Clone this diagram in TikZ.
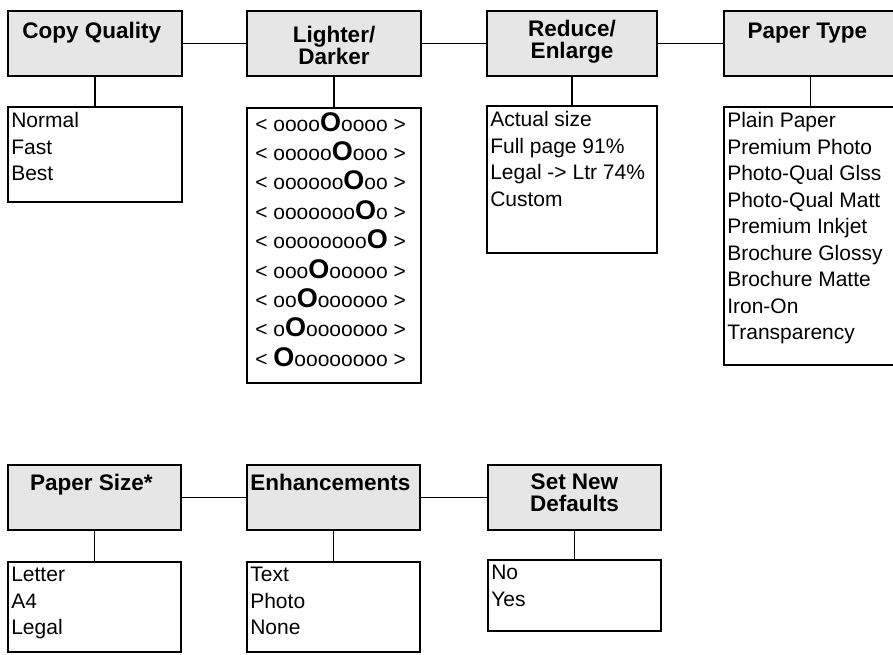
\documentclass[tikz,border=0pt]{standalone}
\usepackage{fontspec}
\setmainfont{Liberation Sans}
\usepackage{xcolor}
\usepackage{tikz}
\usetikzlibrary{positioning}
\definecolor{headgray}{RGB}{230,230,230}
\newcommand{\lvO}{{\fontsize{27}{29.4}\selectfont\bfseries O}}

\begin{document}
\begin{tikzpicture}[x = 1pt, y = -1pt,
  head/.style = {draw, fill = headgray, line width = 1.8pt, minimum height = 65pt},
  list/.style = {draw, line width = 1.8pt},
  headtext/.style = {inner sep = 0, align = center, font = \fontsize{22.5}{22}\selectfont\bfseries},
  listtext/.style = {inner sep = 0, align = left, font = \fontsize{21}{26.5}\selectfont},
  link/.style = {line width = 1.5pt}]
  \useasboundingbox (0, 0) rectangle (893, 654);

  \node[head, minimum width = 174pt] (H1) at (95, 43.5) {};
  \node[head, minimum width = 174pt] (H2) at (334, 43.5) {};
  \node[head, minimum width = 170pt] (H3) at (572, 43.5) {};
  \node[head, minimum width = 173pt] (H4) at (810.5, 43.5) {};
  \node[head, minimum width = 173pt] (H5) at (94.5, 497.5) {};
  \node[head, minimum width = 173pt] (H6) at (333.5, 497.5) {};
  \node[head, minimum width = 173pt] (H7) at (574.5, 497.5) {};

  \node[list, minimum width = 174pt, minimum height = 95pt] (B1) at (95, 154.5) {};
  \node[list, minimum width = 174pt, minimum height = 275pt] (B2) at (334, 245.5) {};
  \node[list, minimum width = 170pt, minimum height = 147pt] (B3) at (572, 179.5) {};
  \node[list, minimum width = 173pt, minimum height = 258pt] (B4) at (810.5, 236) {};
  \node[list, minimum width = 173pt, minimum height = 90pt] (B5) at (94.5, 607) {};
  \node[list, minimum width = 173pt, minimum height = 90pt] (B6) at (333.5, 607) {};
  \node[list, minimum width = 173pt, minimum height = 71pt] (B7) at (574.5, 595.5) {};

  \node[headtext, anchor = north] (T1) at ([yshift = -12pt]H1.north) {
    Copy Quality
  };

  \node[headtext, anchor = north] (T2) at ([yshift = -16pt]H2.north) {
    Lighter/\\Darker
  };

  \node[headtext, anchor = north] (T3) at ([yshift = -10pt]H3.north) {
    Reduce/\\Enlarge
  };

  \node[headtext, anchor = north] (T4) at ([yshift = -13pt]H4.north) {
    Paper Type
  };

  \node[headtext, anchor = north] (T5) at ([yshift = -10pt]H5.north) {
    Paper Size*
  };

  \node[headtext, anchor = north] (T6) at ([yshift = -10pt]H6.north) {
    Enhancements
  };

  \node[headtext, anchor = north] (T7) at ([yshift = -9pt]H7.north) {
    Set New\\Defaults
  };

  \node[listtext, anchor = north west] (E1) at ([shift = {(4pt, -6pt)}]B1.north west) {
    Normal\\Fast\\Best
  };

  \node[listtext, anchor = north west, font = \fontsize{21}{29.4}\selectfont] (E2) at ([shift = {(9pt, -5pt)}]B2.north west) {
    < oooo\lvO{}oooo >\\< ooooo\lvO{}ooo >\\< oooooo\lvO{}oo >\\< ooooooo\lvO{}o >\\< oooooooo\lvO{} >\\< ooo\lvO{}ooooo >\\< oo\lvO{}oooooo >\\< o\lvO{}ooooooo >\\< \lvO{}oooooooo >
  };

  \node[listtext, anchor = north west] (E3) at ([shift = {(4pt, -6pt)}]B3.north west) {
    Actual size\\Full page 91\%\\Legal -> Ltr 74\%\\Custom
  };

  \node[listtext, anchor = north west] (E4) at ([shift = {(4pt, -6pt)}]B4.north west) {
    Plain Paper\\Premium Photo\\Photo-Qual Glss\\Photo-Qual Matt\\Premium Inkjet\\Brochure Glossy\\Brochure Matte\\Iron-On\\Transparency
  };

  \node[listtext, anchor = north west] (E5) at ([shift = {(4pt, -6pt)}]B5.north west) {
    Letter\\A4\\Legal
  };

  \node[listtext, anchor = north west] (E6) at ([shift = {(4pt, -6pt)}]B6.north west) {
    Text\\Photo\\None
  };

  \node[listtext, anchor = north west] (E7) at ([shift = {(4pt, -6pt)}]B7.north west) {
    No\\Yes
  };

  \draw[link] (H1) -- (H2);
  \draw[link] (H2) -- (H3);
  \draw[link] (H3) -- (H4);
  \draw[link] (H5) -- (H6);
  \draw[link] (H6) -- (H7);
  \draw[link] (H1) -- (B1);
  \draw[link] (H2) -- (B2);
  \draw[link] (H3) -- (B3);
  \draw[link] (H4) -- (B4);
  \draw[link] (H5) -- (B5);
  \draw[link] (H6) -- (B6);
  \draw[link] (H7) -- (B7);
\end{tikzpicture}
\end{document}
